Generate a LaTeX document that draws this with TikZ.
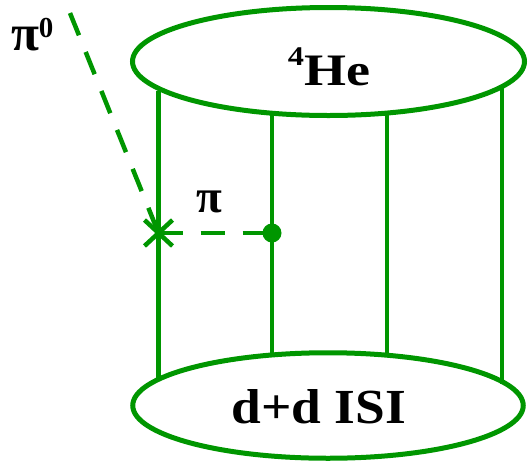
\documentclass[tikz,border=0pt]{standalone}
\usepackage{fontspec}
\setmainfont{Liberation Serif}[BoldFont={Liberation Serif Bold}]
\usetikzlibrary{shapes.geometric,shapes.misc}
\definecolor{dgreen}{RGB}{0,150,0}
\begin{document}
\begin{tikzpicture}[x=1pt,y=-1pt,
  blob/.style={draw=dgreen, line width=5pt, ellipse, inner sep=0pt, outer sep=0pt,
               minimum width=392pt, minimum height=108pt},
  leg/.style={draw=dgreen, line width=4.5pt},
  pion/.style={draw=dgreen, line width=4.5pt, dash pattern=on 24pt off 18pt},
  lbl/.style={text=black, inner sep=0pt, outer sep=0pt}]
\useasboundingbox (0,0) rectangle (531,467);
% nuclei
\node[blob] (top) at (328.5,61.5) {};
\node[blob, minimum width=390.5pt, minimum height=105.5pt] (bot) at (328,405.5) {};
% leg positions
\coordinate (x1) at (158.5,0);
\coordinate (x2) at (272,0);
\coordinate (x3) at (387,0);
\coordinate (x4) at (502,0);
% vertex marks
\node[cross out, draw=dgreen, line width=4.5pt, minimum width=28pt, minimum height=26pt,
      inner sep=0pt, outer sep=0pt] (x) at (158.5,233) {};
\coordinate (p0) at (70,13);
% legs
\draw[leg] (top.-170.9 -| x1) -- (bot.171.1 -| x1);
\draw[leg] (top.-137.5 -| x2) -- (bot.137.96 -| x2);
\draw[leg] (top.-41.4 -| x3) -- (bot.40.46 -| x3);
\draw[leg] (top.-8.23 -| x4) -- (bot.7.82 -| x4);
\node[circle, fill=dgreen, minimum size=19pt, inner sep=0pt] (v) at (272,233) {};
% pions
\draw[pion] (p0) -- (x.center);
\draw[pion] (x.center) -- (v.center);
% labels
\node[lbl, anchor=base, font=\bfseries\fontsize{45}{45}\selectfont] (he) at (329,85)
  {\scalebox{1.2}[1]{\raisebox{20pt}{\fontsize{27}{27}\selectfont 4}He}};
\node[lbl, anchor=base, font=\bfseries\fontsize{49}{49}\selectfont] (dd) at (319,423)
  {\scalebox{1.09}[1]{d+d ISI}};
\node[lbl, anchor=base west, font=\bfseries\fontsize{51}{51}\selectfont] (pi0) at (11,50)
  {π\raisebox{13pt}{\fontsize{29}{29}\selectfont 0}};
\node[lbl, anchor=base west, font=\bfseries\fontsize{47}{47}\selectfont] (pi) at (196,212) {π};
\end{tikzpicture}
\end{document}
